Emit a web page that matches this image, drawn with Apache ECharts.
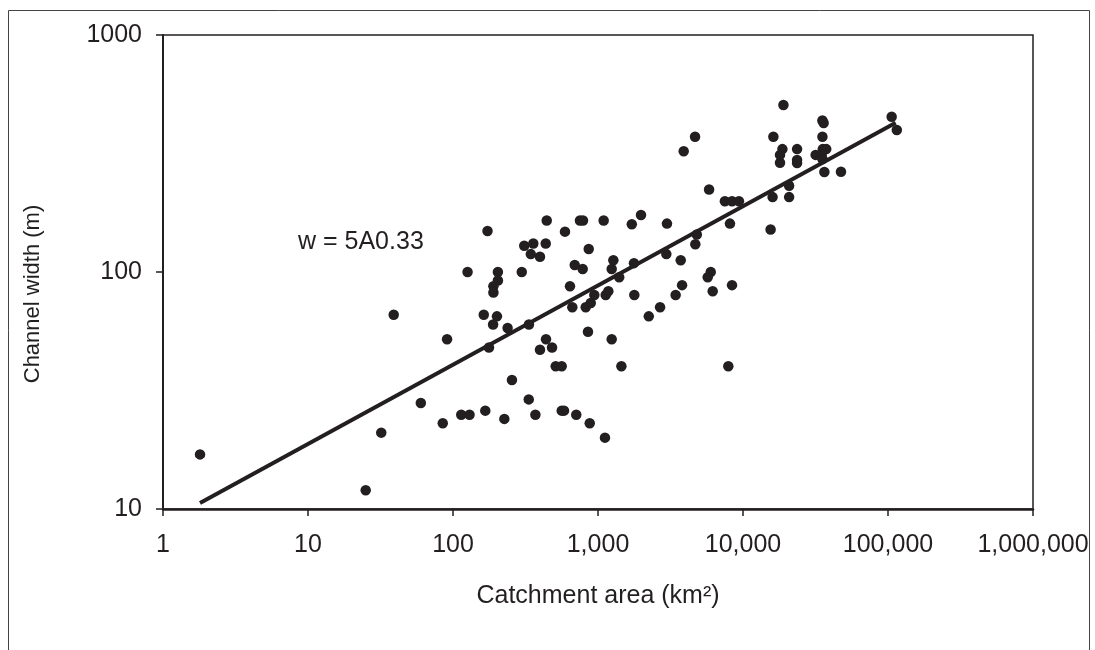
<!DOCTYPE html>
<html>
<head>
<meta charset="utf-8">
<script src="https://cdn.jsdelivr.net/npm/echarts@6/dist/echarts.min.js"></script>
<style>
html,body{margin:0;padding:0;background:#fff;}
#chart{width:1095px;height:650px;}
</style>
</head>
<body>
<div id="chart"></div>
<script>
// Catchment area (km2) and channel width (m)
const catchmentArea = [
  1.8, 25, 39, 91, 60, 32, 85,
  173, 443, 751, 788, 1094, 1980, 1710, 592, 310, 358, 436, 344, 398, 863,
  126, 204, 204, 190, 190, 298, 691, 784, 1276, 1243, 1770, 1400, 641, 943, 1130, 1178, 1780,
  665, 823, 891, 2680, 2240, 163, 201, 189, 238, 334, 177, 853, 1243, 438, 398, 482,
  511, 562, 1450, 255, 333, 114, 130, 167, 226, 370, 562, 583, 708, 877, 1117,
  3900, 4670, 5835, 7500, 8400, 9380, 2990, 8130, 15500, 16000, 20800, 20800,
  4800, 4690, 2960, 3720, 5990, 5710, 3800, 3430, 6180, 8400, 7920,
  18700, 18000, 18000, 23600, 23600, 23600, 35500, 37500, 31700, 34900, 35300,
  36400, 47400, 35300, 36000, 35300, 106000, 115000, 19000, 16200
];
const channelWidth = [
  17, 12, 66, 52, 28, 21, 23,
  149, 165, 165, 165, 165, 174, 159, 148, 129, 132, 132, 119, 116, 125,
  100, 100, 92, 87, 82, 100, 107, 103, 112, 103, 109, 95, 87, 80, 80, 83, 80,
  71, 71, 74, 71, 65, 66, 65, 60, 58, 60, 48, 56, 52, 52, 47, 48,
  40, 40, 40, 35, 29, 25, 25, 26, 24, 25, 26, 26, 25, 23, 20,
  323, 372, 223, 199, 199, 199, 160, 160, 151, 207, 231, 207,
  144, 131, 119, 112, 100, 95, 88, 80, 83, 88, 40,
  330, 312, 289, 330, 297, 288, 330, 330, 312, 312, 300,
  264, 265, 436, 425, 372, 452, 397, 507, 372
];
// Fitted power-law trend line end points
const trendArea = [1.8, 113000];
const trendWidth = [10.6, 426];
// Tick labels
const xTickLabels = ['1', '10', '100', '1,000', '10,000', '100,000', '1,000,000'];
const yTickLabels = ['10', '100', '1000'];
const equationText = 'w = 5A0.33';
const xTitle = 'Catchment area (km²)';
const yTitle = 'Channel width (m)';

const ink = '#231f20';
const FONT = 'Liberation Sans, Arial, sans-serif';

const chart = echarts.init(document.getElementById('chart'), null, {renderer: 'canvas'});
const points = catchmentArea.map((a, i) => [a, channelWidth[i]]);
const trend = trendArea.map((a, i) => [a, trendWidth[i]]);

chart.setOption({
  animation: false,
  backgroundColor: '#ffffff',
  grid: {
    left: 163, right: 62, top: 35, bottom: 141,
    show: true, borderColor: ink, borderWidth: 1.5, backgroundColor: 'transparent'
  },
  xAxis: {
    type: 'log', logBase: 10, min: 1, max: 1000000, splitNumber: 6,
    axisLine: {show: true, onZero: false, lineStyle: {color: ink, width: 2.5}},
    axisTick: {show: true, inside: false, length: 7, lineStyle: {color: ink, width: 1.5}},
    minorTick: {show: false},
    splitLine: {show: false},
    axisLabel: {
      margin: 24, color: ink, fontFamily: FONT, fontSize: 25,
      formatter: v => xTickLabels[Math.round(Math.log10(v))]
    }
  },
  yAxis: {
    type: 'log', logBase: 10, min: 10, max: 1000, splitNumber: 2,
    axisLine: {show: true, onZero: false, lineStyle: {color: ink, width: 2}},
    axisTick: {show: true, inside: false, length: 7, lineStyle: {color: ink, width: 1.5}},
    minorTick: {show: false},
    splitLine: {show: false},
    axisLabel: {
      margin: 21, color: ink, fontFamily: FONT, fontSize: 25,
      formatter: v => yTickLabels[Math.round(Math.log10(v)) - 1]
    }
  },
  series: [
    {
      type: 'line', data: trend, showSymbol: false, symbol: 'none',
      lineStyle: {color: ink, width: 4}, z: 2, silent: true
    },
    {
      type: 'scatter', data: points, symbol: 'circle', symbolSize: 10.5,
      itemStyle: {color: ink, opacity: 1}, z: 3
    }
  ],
  graphic: [
    {
      type: 'rect', silent: true,
      shape: {x: 8.5, y: 10.5, width: 1081, height: 700},
      style: {fill: 'none', stroke: '#444', lineWidth: 1}
    },
    {
      type: 'text', left: 298, top: 230,
      style: {text: equationText, fill: ink, font: '25px ' + FONT}
    },
    {
      type: 'text', x: 598, y: 596,
      style: {text: xTitle, fill: ink, font: '25px ' + FONT, textAlign: 'center', textVerticalAlign: 'middle'}
    },
    {
      type: 'text', x: 33, y: 294, rotation: Math.PI / 2,
      style: {text: yTitle, fill: ink, font: '22px ' + FONT, textAlign: 'center', textVerticalAlign: 'middle'}
    }
  ]
});
</script>
</body>
</html>
